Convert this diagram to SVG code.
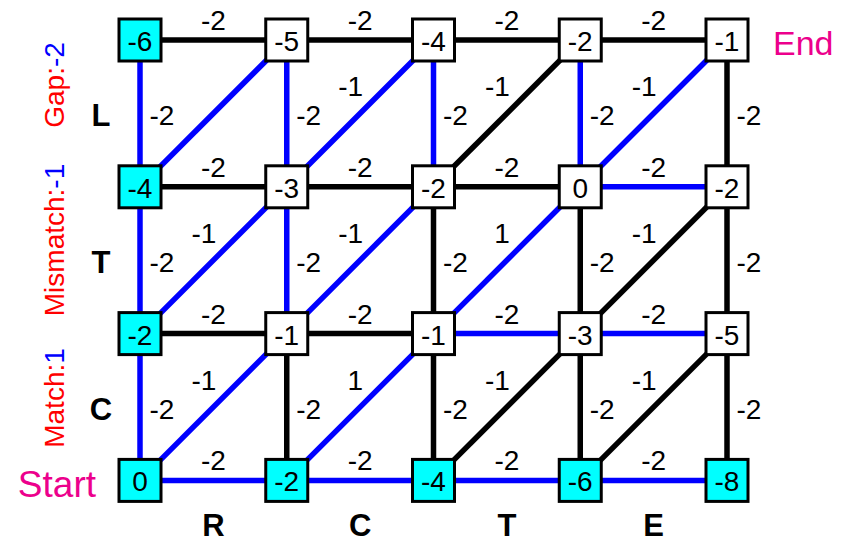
<svg xmlns="http://www.w3.org/2000/svg" width="847" height="536" viewBox="0 0 847 536">
<style>
text{font-family:"Liberation Sans",Arial,sans-serif;font-size:28px;fill:#000}
.k{stroke:#000;stroke-width:5.5;fill:none}
.b{stroke:#0000ff;stroke-width:5.5;fill:none}
.n rect{stroke:#000;stroke-width:3;fill:#fff}
.n.c rect{fill:#00ffff}
.n text{text-anchor:middle}
.hl{text-anchor:middle}
.vl{text-anchor:middle}
.dl{text-anchor:end}
.let{font-weight:bold;font-size:31px;text-anchor:middle}
.mag{fill:#ec008c;font-size:37px}
.red{fill:#ff0000}
.blu{fill:#0000ff}
</style>
<g id="connectors">
<line class="k" x1="140" y1="40" x2="286.75" y2="40"/>
<line class="k" x1="286.75" y1="40" x2="433.5" y2="40"/>
<line class="k" x1="433.5" y1="40" x2="580.25" y2="40"/>
<line class="k" x1="580.25" y1="40" x2="727" y2="40"/>
<line class="k" x1="140" y1="186.8" x2="286.75" y2="186.8"/>
<line class="k" x1="286.75" y1="186.8" x2="433.5" y2="186.8"/>
<line class="k" x1="433.5" y1="186.8" x2="580.25" y2="186.8"/>
<line class="b" x1="580.25" y1="186.8" x2="727" y2="186.8"/>
<line class="k" x1="140" y1="333.6" x2="286.75" y2="333.6"/>
<line class="k" x1="286.75" y1="333.6" x2="433.5" y2="333.6"/>
<line class="b" x1="433.5" y1="333.6" x2="580.25" y2="333.6"/>
<line class="b" x1="580.25" y1="333.6" x2="727" y2="333.6"/>
<line class="b" x1="140" y1="480.4" x2="286.75" y2="480.4"/>
<line class="b" x1="286.75" y1="480.4" x2="433.5" y2="480.4"/>
<line class="b" x1="433.5" y1="480.4" x2="580.25" y2="480.4"/>
<line class="b" x1="580.25" y1="480.4" x2="727" y2="480.4"/>
<line class="b" x1="140" y1="40" x2="140" y2="186.8"/>
<line class="b" x1="286.75" y1="40" x2="286.75" y2="186.8"/>
<line class="b" x1="433.5" y1="40" x2="433.5" y2="186.8"/>
<line class="b" x1="580.25" y1="40" x2="580.25" y2="186.8"/>
<line class="k" x1="727" y1="40" x2="727" y2="186.8"/>
<line class="b" x1="140" y1="186.8" x2="140" y2="333.6"/>
<line class="b" x1="286.75" y1="186.8" x2="286.75" y2="333.6"/>
<line class="k" x1="433.5" y1="186.8" x2="433.5" y2="333.6"/>
<line class="k" x1="580.25" y1="186.8" x2="580.25" y2="333.6"/>
<line class="k" x1="727" y1="186.8" x2="727" y2="333.6"/>
<line class="b" x1="140" y1="333.6" x2="140" y2="480.4"/>
<line class="k" x1="286.75" y1="333.6" x2="286.75" y2="480.4"/>
<line class="k" x1="433.5" y1="333.6" x2="433.5" y2="480.4"/>
<line class="k" x1="580.25" y1="333.6" x2="580.25" y2="480.4"/>
<line class="k" x1="727" y1="333.6" x2="727" y2="480.4"/>
<line class="b" x1="140" y1="186.8" x2="286.75" y2="40"/>
<line class="b" x1="286.75" y1="186.8" x2="433.5" y2="40"/>
<line class="k" x1="433.5" y1="186.8" x2="580.25" y2="40"/>
<line class="b" x1="580.25" y1="186.8" x2="727" y2="40"/>
<line class="b" x1="140" y1="333.6" x2="286.75" y2="186.8"/>
<line class="b" x1="286.75" y1="333.6" x2="433.5" y2="186.8"/>
<line class="b" x1="433.5" y1="333.6" x2="580.25" y2="186.8"/>
<line class="k" x1="580.25" y1="333.6" x2="727" y2="186.8"/>
<line class="b" x1="140" y1="480.4" x2="286.75" y2="333.6"/>
<line class="b" x1="286.75" y1="480.4" x2="433.5" y2="333.6"/>
<line class="k" x1="433.5" y1="480.4" x2="580.25" y2="333.6"/>
<line class="k" x1="580.25" y1="480.4" x2="727" y2="333.6"/>
<text class="hl" x="213.4" y="30">-2</text>
<text class="hl" x="360.1" y="30">-2</text>
<text class="hl" x="506.9" y="30">-2</text>
<text class="hl" x="653.6" y="30">-2</text>
<text class="hl" x="213.4" y="176.8">-2</text>
<text class="hl" x="360.1" y="176.8">-2</text>
<text class="hl" x="506.9" y="176.8">-2</text>
<text class="hl" x="653.6" y="176.8">-2</text>
<text class="hl" x="213.4" y="323.6">-2</text>
<text class="hl" x="360.1" y="323.6">-2</text>
<text class="hl" x="506.9" y="323.6">-2</text>
<text class="hl" x="653.6" y="323.6">-2</text>
<text class="hl" x="213.4" y="470.4">-2</text>
<text class="hl" x="360.1" y="470.4">-2</text>
<text class="hl" x="506.9" y="470.4">-2</text>
<text class="hl" x="653.6" y="470.4">-2</text>
<text class="vl" x="162" y="125.4">-2</text>
<text class="vl" x="308.75" y="125.4">-2</text>
<text class="vl" x="455.5" y="125.4">-2</text>
<text class="vl" x="602.25" y="125.4">-2</text>
<text class="vl" x="749" y="125.4">-2</text>
<text class="vl" x="162" y="272.2">-2</text>
<text class="vl" x="308.75" y="272.2">-2</text>
<text class="vl" x="455.5" y="272.2">-2</text>
<text class="vl" x="602.25" y="272.2">-2</text>
<text class="vl" x="749" y="272.2">-2</text>
<text class="vl" x="162" y="419">-2</text>
<text class="vl" x="308.75" y="419">-2</text>
<text class="vl" x="455.5" y="419">-2</text>
<text class="vl" x="602.25" y="419">-2</text>
<text class="vl" x="749" y="419">-2</text>
<text class="dl" x="363.1" y="96.4">-1</text>
<text class="dl" x="509.9" y="96.4">-1</text>
<text class="dl" x="656.6" y="96.4">-1</text>
<text class="dl" x="216.4" y="243.2">-1</text>
<text class="dl" x="363.1" y="243.2">-1</text>
<text class="dl" x="509.9" y="243.2">1</text>
<text class="dl" x="656.6" y="243.2">-1</text>
<text class="dl" x="216.4" y="390">-1</text>
<text class="dl" x="363.1" y="390">1</text>
<text class="dl" x="509.9" y="390">-1</text>
<text class="dl" x="656.6" y="390">-1</text>
</g>
<g id="n00" class="n c"><rect x="119" y="19" width="42" height="42"/><text x="140" y="51">-6</text></g>
<g id="n01" class="n"><rect x="265.75" y="19" width="42" height="42"/><text x="286.75" y="51">-5</text></g>
<g id="n02" class="n"><rect x="412.5" y="19" width="42" height="42"/><text x="433.5" y="51">-4</text></g>
<g id="n03" class="n"><rect x="559.25" y="19" width="42" height="42"/><text x="580.25" y="51">-2</text></g>
<g id="n04" class="n"><rect x="706" y="19" width="42" height="42"/><text x="727" y="51">-1</text></g>
<g id="n10" class="n c"><rect x="119" y="165.8" width="42" height="42"/><text x="140" y="197.8">-4</text></g>
<g id="n11" class="n"><rect x="265.75" y="165.8" width="42" height="42"/><text x="286.75" y="197.8">-3</text></g>
<g id="n12" class="n"><rect x="412.5" y="165.8" width="42" height="42"/><text x="433.5" y="197.8">-2</text></g>
<g id="n13" class="n"><rect x="559.25" y="165.8" width="42" height="42"/><text x="580.25" y="197.8">0</text></g>
<g id="n14" class="n"><rect x="706" y="165.8" width="42" height="42"/><text x="727" y="197.8">-2</text></g>
<g id="n20" class="n c"><rect x="119" y="312.6" width="42" height="42"/><text x="140" y="344.6">-2</text></g>
<g id="n21" class="n"><rect x="265.75" y="312.6" width="42" height="42"/><text x="286.75" y="344.6">-1</text></g>
<g id="n22" class="n"><rect x="412.5" y="312.6" width="42" height="42"/><text x="433.5" y="344.6">-1</text></g>
<g id="n23" class="n"><rect x="559.25" y="312.6" width="42" height="42"/><text x="580.25" y="344.6">-3</text></g>
<g id="n24" class="n"><rect x="706" y="312.6" width="42" height="42"/><text x="727" y="344.6">-5</text></g>
<g id="n30" class="n c"><rect x="119" y="459.4" width="42" height="42"/><text x="140" y="491.4">0</text></g>
<g id="n31" class="n c"><rect x="265.75" y="459.4" width="42" height="42"/><text x="286.75" y="491.4">-2</text></g>
<g id="n32" class="n c"><rect x="412.5" y="459.4" width="42" height="42"/><text x="433.5" y="491.4">-4</text></g>
<g id="n33" class="n c"><rect x="559.25" y="459.4" width="42" height="42"/><text x="580.25" y="491.4">-6</text></g>
<g id="n34" class="n c"><rect x="706" y="459.4" width="42" height="42"/><text x="727" y="491.4">-8</text></g>
<g id="labels">
<text class="let" x="101" y="126">L</text>
<text class="let" x="101" y="273">T</text>
<text class="let" x="101" y="420">C</text>
<text class="let" x="213.4" y="536">R</text>
<text class="let" x="360.1" y="536">C</text>
<text class="let" x="506.9" y="536">T</text>
<text class="let" x="653.6" y="536">E</text>
<text class="mag" x="96" y="497" text-anchor="end">Start</text>
<text class="mag" x="773" y="55" style="font-size:34px">End</text>
<text transform="translate(64,85) rotate(-90)" text-anchor="middle"><tspan class="red">Gap:</tspan><tspan class="blu">-2</tspan></text>
<text transform="translate(64,240) rotate(-90)" text-anchor="middle"><tspan class="red">Mismatch:</tspan><tspan class="blu">-1</tspan></text>
<text transform="translate(64,398) rotate(-90)" text-anchor="middle"><tspan class="red">Match:</tspan><tspan class="blu">1</tspan></text>
</g>
</svg>
